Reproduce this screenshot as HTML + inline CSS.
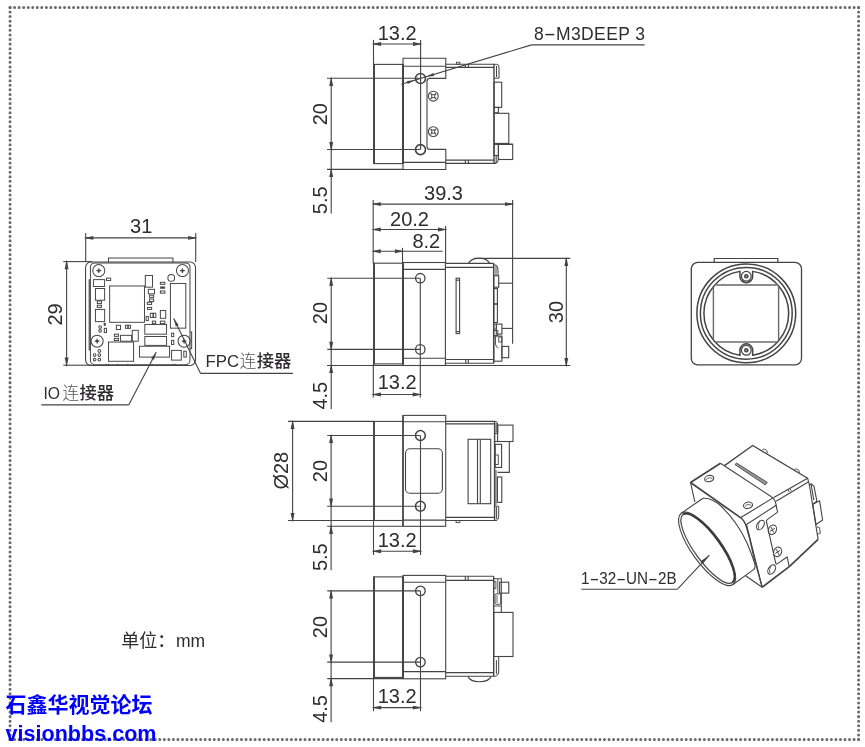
<!DOCTYPE html>
<html><head><meta charset="utf-8"><title>drawing</title>
<style>
html,body{margin:0;padding:0;background:#fff;}
body{width:865px;height:747px;overflow:hidden;}
svg{display:block;font-family:"Liberation Sans",sans-serif;will-change:transform;}
</style></head><body>
<svg width="865" height="747" viewBox="0 0 865 747">

<line x1="10.05" y1="7.45" x2="858.6" y2="7.45" stroke="#6a6a6a" stroke-width="3" stroke-dasharray="0.01 4.5277" stroke-linecap="round"/>
<line x1="10.05" y1="739.5" x2="858.6" y2="739.5" stroke="#6a6a6a" stroke-width="3" stroke-dasharray="0.01 4.5277" stroke-linecap="round"/>
<line x1="10.05" y1="7.45" x2="10.05" y2="739.5" stroke="#6a6a6a" stroke-width="3" stroke-dasharray="0.01 4.5653" stroke-linecap="round"/>
<line x1="858.6" y1="7.45" x2="858.6" y2="739.5" stroke="#6a6a6a" stroke-width="3" stroke-dasharray="0.01 4.5653" stroke-linecap="round"/>
<rect x="374" y="64.4" width="29.00" height="99.20" rx="0" fill="none" stroke="#454345" stroke-width="1.1"/>
<line x1="374" y1="63.900000000000006" x2="374" y2="164.1" stroke="#454345" stroke-width="1.9"/>
<line x1="403" y1="63.900000000000006" x2="403" y2="164.1" stroke="#454345" stroke-width="1.9"/>
<path d="M403,58.3 H445.8 V78.4 H430 Q427,78.4 427,81.4 V146.4 Q427,149.4 430,149.4 H445.8 V169.5 H403 Z" fill="none" stroke="#454345" stroke-width="1.1" />
<line x1="403" y1="66.2" x2="445.8" y2="66.2" stroke="#454345" stroke-width="1.1"/>
<line x1="403" y1="162.4" x2="445.8" y2="162.4" stroke="#454345" stroke-width="1.1"/>
<circle cx="420.5" cy="78.5" r="5.0" fill="none" stroke="#454345" stroke-width="1.6"/>
<circle cx="420.5" cy="149.6" r="5.0" fill="none" stroke="#454345" stroke-width="1.6"/>
<circle cx="433.3" cy="96.2" r="4.9" fill="none" stroke="#454345" stroke-width="1.1"/>
<path d="M430.6,93.5 l5.4,5.4 m0,-5.4 l-5.4,5.4" fill="none" stroke="#454345" stroke-width="1.2" />
<rect x="431.8" y="94.7" width="3.00" height="3.00" rx="0" fill="#fff" stroke="#454345" stroke-width="0.9"/>
<circle cx="433.3" cy="131.6" r="4.9" fill="none" stroke="#454345" stroke-width="1.1"/>
<path d="M430.6,128.9 l5.4,5.4 m0,-5.4 l-5.4,5.4" fill="none" stroke="#454345" stroke-width="1.2" />
<rect x="431.8" y="130.1" width="3.00" height="3.00" rx="0" fill="#fff" stroke="#454345" stroke-width="0.9"/>
<line x1="445.8" y1="64.3" x2="494" y2="64.3" stroke="#454345" stroke-width="1.1"/>
<line x1="445.8" y1="67.4" x2="494" y2="67.4" stroke="#454345" stroke-width="1.1"/>
<line x1="445.8" y1="160.1" x2="494" y2="160.1" stroke="#454345" stroke-width="1.1"/>
<line x1="445.8" y1="163.4" x2="496" y2="163.4" stroke="#454345" stroke-width="1.1"/>
<line x1="494" y1="64.3" x2="494" y2="163.4" stroke="#454345" stroke-width="1.4"/>
<rect x="456.4" y="62.2" width="3.40" height="2.10" rx="0" fill="none" stroke="#454345" stroke-width="0.9"/>
<line x1="465.3" y1="64.3" x2="465.3" y2="67.4" stroke="#454345" stroke-width="1.1"/>
<line x1="465.3" y1="160.1" x2="465.3" y2="163.4" stroke="#454345" stroke-width="1.1"/>
<line x1="468.4" y1="64.3" x2="468.4" y2="67.4" stroke="#454345" stroke-width="1.1"/>
<line x1="468.4" y1="160.1" x2="468.4" y2="163.4" stroke="#454345" stroke-width="1.1"/>
<path d="M494,64.3 H496.5 Q499,64.3 499,67 V78.2 H494 M496.5,66 V77" fill="none" stroke="#454345" stroke-width="1.0" />
<rect x="494" y="82.2" width="7.70" height="25.20" rx="0" fill="none" stroke="#454345" stroke-width="1.1"/>
<rect x="494" y="107.4" width="4.40" height="5.40" rx="0" fill="none" stroke="#454345" stroke-width="1.1"/>
<rect x="494" y="113.3" width="14.80" height="30.10" rx="0" fill="none" stroke="#454345" stroke-width="1.1"/>
<line x1="494" y1="144.3" x2="512.7" y2="144.3" stroke="#454345" stroke-width="1.3"/>
<rect x="498.4" y="144.3" width="14.30" height="15.20" rx="0" fill="none" stroke="#454345" stroke-width="1.1"/>
<rect x="494" y="144.3" width="4.40" height="11.20" rx="0" fill="none" stroke="#454345" stroke-width="1.1"/>
<path d="M498.4,155.5 V160 Q498,163.4 495,163.4" fill="none" stroke="#454345" stroke-width="1.0" />
<line x1="496.2" y1="156" x2="496.2" y2="163" stroke="#454345" stroke-width="1.1"/>
<line x1="373.5" y1="39.9" x2="373.5" y2="64.4" stroke="#454345" stroke-width="1.1"/>
<line x1="420.6" y1="39.9" x2="420.6" y2="149.5" stroke="#454345" stroke-width="1.1"/>
<line x1="373.5" y1="44" x2="420.6" y2="44" stroke="#454345" stroke-width="1.1"/>
<polygon points="371.50,44.00 381.10,45.95 381.10,42.05" fill="#454345"/>
<polygon points="422.60,44.00 413.00,42.05 413.00,45.95" fill="#454345"/>
<text x="397.2" y="39.8" font-size="20" text-anchor="middle" fill="#2e2c2e">13.2</text>
<line x1="327" y1="78.3" x2="420.5" y2="78.3" stroke="#454345" stroke-width="1.1"/>
<line x1="327" y1="149.5" x2="420.5" y2="149.5" stroke="#454345" stroke-width="1.1"/>
<line x1="327" y1="169.4" x2="403" y2="169.4" stroke="#454345" stroke-width="1.1"/>
<line x1="331.2" y1="78.3" x2="331.2" y2="213.6" stroke="#454345" stroke-width="1.1"/>
<polygon points="331.20,76.30 329.25,85.90 333.15,85.90" fill="#454345"/>
<polygon points="331.20,151.50 333.15,141.90 329.25,141.90" fill="#454345"/>
<polygon points="331.20,167.40 329.25,177.00 333.15,177.00" fill="#454345"/>
<text x="327.2" y="114.2" font-size="20" text-anchor="middle" fill="#2e2c2e" transform="rotate(-90 327.2 114.2)">20</text>
<text x="327.2" y="200.3" font-size="20" text-anchor="middle" fill="#2e2c2e" transform="rotate(-90 327.2 200.3)">5.5</text>
<line x1="531.5" y1="44.9" x2="644.6" y2="44.9" stroke="#454345" stroke-width="1.3"/>
<line x1="531.5" y1="44.9" x2="401.4" y2="84.3" stroke="#454345" stroke-width="1.1"/>
<polygon points="426.05,76.82 434.17,76.03 433.24,72.97" fill="#454345"/>
<polygon points="414.95,80.18 406.83,80.97 407.76,84.03" fill="#454345"/>
<text x="534" y="40.4" font-size="17.5" text-anchor="start" fill="#2e2c2e">8<tspan textLength="12.2" lengthAdjust="spacingAndGlyphs">-</tspan><tspan letter-spacing="0.4">M3DEEP 3</tspan></text>
<rect x="374" y="263.2" width="29.00" height="100.70" rx="0" fill="none" stroke="#454345" stroke-width="1.1"/>
<line x1="374" y1="262.7" x2="374" y2="364.4" stroke="#454345" stroke-width="1.9"/>
<line x1="403" y1="262.7" x2="403" y2="364.4" stroke="#454345" stroke-width="1.9"/>
<rect x="403" y="262.5" width="42.40" height="103.00" rx="0" fill="none" stroke="#454345" stroke-width="1.1"/>
<line x1="403" y1="269.4" x2="445.4" y2="269.4" stroke="#454345" stroke-width="1.1"/>
<line x1="403" y1="358.2" x2="445.4" y2="358.2" stroke="#454345" stroke-width="1.1"/>
<line x1="445.4" y1="263.4" x2="493.7" y2="263.4" stroke="#454345" stroke-width="1.1"/>
<line x1="445.4" y1="267.4" x2="493.7" y2="267.4" stroke="#454345" stroke-width="1.1"/>
<line x1="445.4" y1="359.5" x2="493.7" y2="359.5" stroke="#454345" stroke-width="1.1"/>
<line x1="445.4" y1="363.3" x2="493.7" y2="363.3" stroke="#454345" stroke-width="1.1"/>
<line x1="493.7" y1="263.4" x2="493.7" y2="363.3" stroke="#454345" stroke-width="1.5"/>
<line x1="465.8" y1="359.5" x2="465.8" y2="363.3" stroke="#454345" stroke-width="1.1"/>
<line x1="468.3" y1="359.5" x2="468.3" y2="363.3" stroke="#454345" stroke-width="1.1"/>
<rect x="456.1" y="278.2" width="3.50" height="55.40" rx="0" fill="none" stroke="#454345" stroke-width="1.1"/>
<line x1="456.1" y1="280.2" x2="459.6" y2="280.2" stroke="#454345" stroke-width="1.1"/>
<line x1="456.1" y1="331.6" x2="459.6" y2="331.6" stroke="#454345" stroke-width="1.1"/>
<circle cx="420.3" cy="278.2" r="4.7" fill="none" stroke="#454345" stroke-width="1.3"/>
<circle cx="420.3" cy="349.4" r="4.7" fill="none" stroke="#454345" stroke-width="1.3"/>
<path d="M468.3,263.4 Q471.5,258.4 478,258.4 H481 Q486.5,258.4 489.9,263.4" fill="none" stroke="#454345" stroke-width="1.1" />
<path d="M493.7,265 H496 Q498,266 498,270 V275.9 M496,266 V275" fill="none" stroke="#454345" stroke-width="1.0" />
<rect x="493.7" y="275.7" width="5.00" height="11.50" rx="0" fill="none" stroke="#454345" stroke-width="1.1"/>
<rect x="493.7" y="288.6" width="3.70" height="15.40" rx="0" fill="none" stroke="#454345" stroke-width="1.1"/>
<rect x="493.7" y="304" width="3.70" height="18.50" rx="0" fill="none" stroke="#454345" stroke-width="1.1"/>
<rect x="496.3" y="324.1" width="5.60" height="10.00" rx="0" fill="none" stroke="#454345" stroke-width="1.1"/>
<rect x="493.7" y="324.1" width="2.60" height="4.90" rx="0" fill="none" stroke="#454345" stroke-width="0.9"/>
<rect x="493.7" y="330.5" width="4.10" height="5.00" rx="0" fill="none" stroke="#454345" stroke-width="0.9"/>
<rect x="493.7" y="336.1" width="8.20" height="25.10" rx="0" fill="none" stroke="#454345" stroke-width="1.1"/>
<path d="M495.5,336.5 V344 Q495.8,347.5 498.5,347.8" fill="none" stroke="#454345" stroke-width="0.9" />
<rect x="498.8" y="337" width="3.10" height="5.00" rx="0" fill="none" stroke="#454345" stroke-width="0.9"/>
<rect x="501.9" y="346.4" width="6.80" height="11.30" rx="0" fill="none" stroke="#454345" stroke-width="1.1"/>
<line x1="373.2" y1="200" x2="373.2" y2="263.2" stroke="#454345" stroke-width="1.1"/>
<line x1="512.6" y1="200" x2="512.6" y2="343.7" stroke="#454345" stroke-width="1.1"/>
<line x1="373.2" y1="204.1" x2="512.6" y2="204.1" stroke="#454345" stroke-width="1.1"/>
<polygon points="371.20,204.10 380.80,206.05 380.80,202.15" fill="#454345"/>
<polygon points="514.60,204.10 505.00,202.15 505.00,206.05" fill="#454345"/>
<text x="443.5" y="199.7" font-size="20" text-anchor="middle" fill="#2e2c2e">39.3</text>
<line x1="445.6" y1="226" x2="445.6" y2="263.4" stroke="#454345" stroke-width="1.1"/>
<line x1="373.2" y1="229.5" x2="445.6" y2="229.5" stroke="#454345" stroke-width="1.1"/>
<polygon points="371.20,229.50 380.80,231.45 380.80,227.55" fill="#454345"/>
<polygon points="447.60,229.50 438.00,227.55 438.00,231.45" fill="#454345"/>
<text x="409.5" y="225.6" font-size="20" text-anchor="middle" fill="#2e2c2e">20.2</text>
<line x1="402.5" y1="247.8" x2="402.5" y2="263" stroke="#454345" stroke-width="1.1"/>
<line x1="373.2" y1="251.3" x2="442.8" y2="251.3" stroke="#454345" stroke-width="1.1"/>
<polygon points="371.20,251.30 380.80,253.25 380.80,249.35" fill="#454345"/>
<polygon points="404.50,251.30 394.90,249.35 394.90,253.25" fill="#454345"/>
<text x="426.3" y="247.6" font-size="20" text-anchor="middle" fill="#2e2c2e">8.2</text>
<line x1="498.7" y1="283.2" x2="512.6" y2="283.2" stroke="#454345" stroke-width="1.1"/>
<line x1="501.9" y1="328.4" x2="512.6" y2="328.4" stroke="#454345" stroke-width="1.1"/>
<line x1="474" y1="258.4" x2="570.3" y2="258.4" stroke="#454345" stroke-width="1.1"/>
<line x1="327" y1="365.5" x2="570.3" y2="365.5" stroke="#454345" stroke-width="1.1"/>
<line x1="566.3" y1="258.4" x2="566.3" y2="365.5" stroke="#454345" stroke-width="1.1"/>
<polygon points="566.30,256.40 564.35,266.00 568.25,266.00" fill="#454345"/>
<polygon points="566.30,367.50 568.25,357.90 564.35,357.90" fill="#454345"/>
<text x="563.3" y="312.1" font-size="20" text-anchor="middle" fill="#2e2c2e" transform="rotate(-90 563.3 312.1)">30</text>
<line x1="327.3" y1="278.2" x2="420.3" y2="278.2" stroke="#454345" stroke-width="1.1"/>
<line x1="327.3" y1="349.4" x2="420.3" y2="349.4" stroke="#454345" stroke-width="1.1"/>
<line x1="331.2" y1="278.2" x2="331.2" y2="409" stroke="#454345" stroke-width="1.1"/>
<polygon points="331.20,276.20 329.25,285.80 333.15,285.80" fill="#454345"/>
<polygon points="331.20,351.40 333.15,341.80 329.25,341.80" fill="#454345"/>
<polygon points="331.20,363.50 329.25,373.10 333.15,373.10" fill="#454345"/>
<text x="327.2" y="313" font-size="20" text-anchor="middle" fill="#2e2c2e" transform="rotate(-90 327.2 313)">20</text>
<text x="327.2" y="395.7" font-size="20" text-anchor="middle" fill="#2e2c2e" transform="rotate(-90 327.2 395.7)">4.5</text>
<line x1="373.3" y1="363.9" x2="373.3" y2="397.5" stroke="#454345" stroke-width="1.1"/>
<line x1="420.3" y1="278.2" x2="420.3" y2="397.5" stroke="#454345" stroke-width="1.1"/>
<line x1="373.3" y1="394.5" x2="420.3" y2="394.5" stroke="#454345" stroke-width="1.1"/>
<polygon points="371.30,394.50 380.90,396.45 380.90,392.55" fill="#454345"/>
<polygon points="422.30,394.50 412.70,392.55 412.70,396.45" fill="#454345"/>
<text x="397.2" y="389.4" font-size="20" text-anchor="middle" fill="#2e2c2e">13.2</text>
<line x1="374" y1="421.4" x2="374" y2="520.5" stroke="#454345" stroke-width="1.9"/>
<line x1="374" y1="421.4" x2="403" y2="421.4" stroke="#454345" stroke-width="1.1"/>
<line x1="374" y1="520.5" x2="403" y2="520.5" stroke="#454345" stroke-width="1.1"/>
<rect x="403" y="415.4" width="42.70" height="110.90" rx="0" fill="none" stroke="#454345" stroke-width="1.1"/>
<line x1="403" y1="415.4" x2="403" y2="526.3" stroke="#454345" stroke-width="1.5"/>
<line x1="403" y1="421.7" x2="445.7" y2="421.7" stroke="#454345" stroke-width="1.1"/>
<line x1="403" y1="520.1" x2="445.7" y2="520.1" stroke="#454345" stroke-width="1.1"/>
<rect x="405.5" y="448.8" width="36.90" height="44.40" rx="4.5" fill="none" stroke="#454345" stroke-width="1.1"/>
<circle cx="420.4" cy="435.5" r="4.9" fill="none" stroke="#454345" stroke-width="1.5"/>
<circle cx="420.4" cy="506.2" r="4.9" fill="none" stroke="#454345" stroke-width="1.5"/>
<line x1="445.7" y1="421.4" x2="494.6" y2="421.4" stroke="#454345" stroke-width="1.1"/>
<line x1="445.7" y1="423.9" x2="494.6" y2="423.9" stroke="#454345" stroke-width="1.1"/>
<line x1="445.7" y1="517.4" x2="494.6" y2="517.4" stroke="#454345" stroke-width="1.1"/>
<line x1="445.7" y1="520.5" x2="496.5" y2="520.5" stroke="#454345" stroke-width="1.1"/>
<line x1="494.6" y1="421.4" x2="494.6" y2="520.5" stroke="#454345" stroke-width="1.4"/>
<rect x="468.1" y="439.3" width="22.60" height="64.40" rx="0" fill="none" stroke="#454345" stroke-width="1.1"/>
<line x1="477.5" y1="439.3" x2="477.5" y2="503.7" stroke="#454345" stroke-width="1.1"/>
<line x1="480.3" y1="439.3" x2="480.3" y2="503.7" stroke="#454345" stroke-width="1.1"/>
<rect x="456.1" y="520.5" width="3.70" height="2.10" rx="0" fill="none" stroke="#454345" stroke-width="0.9"/>
<path d="M494.6,421.4 H496 Q497.8,422 497.8,425 V433.4 H494.6 M496.2,423 V432.5" fill="none" stroke="#454345" stroke-width="1.0" />
<rect x="497.6" y="425.1" width="15.40" height="16.40" rx="0" fill="none" stroke="#454345" stroke-width="1.1"/>
<path d="M494.6,441.5 H509.3 V472.4 H497.5" fill="none" stroke="#454345" stroke-width="1.1" />
<rect x="495.2" y="444.3" width="6.40" height="23.10" rx="0" fill="none" stroke="#454345" stroke-width="1.1"/>
<rect x="494.6" y="455" width="3.70" height="9.50" rx="0" fill="none" stroke="#454345" stroke-width="0.9"/>
<rect x="497.4" y="477" width="4.40" height="25.40" rx="0" fill="none" stroke="#454345" stroke-width="1.1"/>
<line x1="496" y1="470" x2="496" y2="505" stroke="#454345" stroke-width="0.9"/>
<path d="M494.6,506.2 H498.7 V517 Q498.3,520.5 496,520.5 M496.6,507 V519" fill="none" stroke="#454345" stroke-width="1.0" />
<line x1="288" y1="421.4" x2="374" y2="421.4" stroke="#454345" stroke-width="1.1"/>
<line x1="288" y1="520.5" x2="374" y2="520.5" stroke="#454345" stroke-width="1.1"/>
<line x1="292.6" y1="421.4" x2="292.6" y2="520.5" stroke="#454345" stroke-width="1.1"/>
<polygon points="292.60,419.40 290.65,429.00 294.55,429.00" fill="#454345"/>
<polygon points="292.60,522.50 294.55,512.90 290.65,512.90" fill="#454345"/>
<text x="288" y="470.7" font-size="20" text-anchor="middle" fill="#2e2c2e" transform="rotate(-90 288 470.7)">Ø28</text>
<line x1="327.2" y1="435.5" x2="420.4" y2="435.5" stroke="#454345" stroke-width="1.1"/>
<line x1="327.2" y1="506.2" x2="420.4" y2="506.2" stroke="#454345" stroke-width="1.1"/>
<line x1="327.2" y1="526.3" x2="403" y2="526.3" stroke="#454345" stroke-width="1.1"/>
<line x1="331.1" y1="435.5" x2="331.1" y2="570.2" stroke="#454345" stroke-width="1.1"/>
<polygon points="331.10,433.50 329.15,443.10 333.05,443.10" fill="#454345"/>
<polygon points="331.10,508.20 333.05,498.60 329.15,498.60" fill="#454345"/>
<polygon points="331.10,524.30 329.15,533.90 333.05,533.90" fill="#454345"/>
<text x="327.2" y="471.1" font-size="20" text-anchor="middle" fill="#2e2c2e" transform="rotate(-90 327.2 471.1)">20</text>
<text x="327.2" y="557.2" font-size="20" text-anchor="middle" fill="#2e2c2e" transform="rotate(-90 327.2 557.2)">5.5</text>
<line x1="373.5" y1="520.5" x2="373.5" y2="555" stroke="#454345" stroke-width="1.1"/>
<line x1="420.5" y1="435.5" x2="420.5" y2="555" stroke="#454345" stroke-width="1.1"/>
<line x1="373.5" y1="551.3" x2="420.5" y2="551.3" stroke="#454345" stroke-width="1.1"/>
<polygon points="371.50,551.30 381.10,553.25 381.10,549.35" fill="#454345"/>
<polygon points="422.50,551.30 412.90,549.35 412.90,553.25" fill="#454345"/>
<text x="397.2" y="547.2" font-size="20" text-anchor="middle" fill="#2e2c2e">13.2</text>
<rect x="374" y="576.9" width="29.00" height="100.50" rx="0" fill="none" stroke="#454345" stroke-width="1.1"/>
<line x1="374" y1="576.4" x2="374" y2="677.9" stroke="#454345" stroke-width="1.9"/>
<line x1="403" y1="576.4" x2="403" y2="677.9" stroke="#454345" stroke-width="1.9"/>
<rect x="403" y="575.4" width="42.70" height="103.40" rx="0" fill="none" stroke="#454345" stroke-width="1.1"/>
<line x1="403" y1="582.2" x2="445.7" y2="582.2" stroke="#454345" stroke-width="1.1"/>
<line x1="403" y1="671.6" x2="445.7" y2="671.6" stroke="#454345" stroke-width="1.1"/>
<circle cx="420.4" cy="590.9" r="4.8" fill="none" stroke="#454345" stroke-width="1.3"/>
<circle cx="420.4" cy="662.1" r="4.8" fill="none" stroke="#454345" stroke-width="1.3"/>
<line x1="445.7" y1="576.2" x2="493.7" y2="576.2" stroke="#454345" stroke-width="1.1"/>
<line x1="445.7" y1="580.4" x2="493.7" y2="580.4" stroke="#454345" stroke-width="1.1"/>
<line x1="445.7" y1="672.6" x2="493.7" y2="672.6" stroke="#454345" stroke-width="1.1"/>
<line x1="445.7" y1="676.3" x2="495.5" y2="676.3" stroke="#454345" stroke-width="1.1"/>
<line x1="493.7" y1="576.2" x2="493.7" y2="676.3" stroke="#454345" stroke-width="1.4"/>
<line x1="465.3" y1="576.2" x2="465.3" y2="580.4" stroke="#454345" stroke-width="1.1"/>
<line x1="468.1" y1="576.2" x2="468.1" y2="580.4" stroke="#454345" stroke-width="1.1"/>
<path d="M467.8,676.3 Q470,681.8 479.5,681.8 Q489,681.8 491.2,676.3" fill="none" stroke="#454345" stroke-width="1.1" />
<path d="M493.7,578.7 H501.3 V611.9" fill="none" stroke="#454345" stroke-width="1.1" />
<rect x="493.7" y="581.7" width="2.20" height="6.70" rx="0" fill="none" stroke="#454345" stroke-width="0.9"/>
<rect x="499.6" y="582.2" width="9.20" height="10.90" rx="0" fill="none" stroke="#454345" stroke-width="1.1"/>
<line x1="497.8" y1="579" x2="497.8" y2="593" stroke="#454345" stroke-width="0.9"/>
<rect x="495" y="593.8" width="5.80" height="10.50" rx="1.5" fill="none" stroke="#454345" stroke-width="1.0"/>
<line x1="497" y1="595" x2="497" y2="603" stroke="#454345" stroke-width="0.8"/>
<line x1="494" y1="606" x2="501" y2="606" stroke="#454345" stroke-width="0.9"/>
<rect x="493.7" y="612.4" width="19.30" height="44.10" rx="0" fill="none" stroke="#454345" stroke-width="1.1"/>
<path d="M493.7,656.5 H498.7 V672 Q498.3,675.6 495.5,676.3 M496.4,660 V674" fill="none" stroke="#454345" stroke-width="1.0" />
<line x1="327.2" y1="590.9" x2="420.4" y2="590.9" stroke="#454345" stroke-width="1.1"/>
<line x1="327.2" y1="662.1" x2="420.4" y2="662.1" stroke="#454345" stroke-width="1.1"/>
<line x1="327.2" y1="678.6" x2="403" y2="678.6" stroke="#454345" stroke-width="1.1"/>
<line x1="331.1" y1="590.9" x2="331.1" y2="722.3" stroke="#454345" stroke-width="1.1"/>
<polygon points="331.10,588.90 329.15,598.50 333.05,598.50" fill="#454345"/>
<polygon points="331.10,664.10 333.05,654.50 329.15,654.50" fill="#454345"/>
<polygon points="331.10,676.60 329.15,686.20 333.05,686.20" fill="#454345"/>
<text x="327.2" y="627" font-size="20" text-anchor="middle" fill="#2e2c2e" transform="rotate(-90 327.2 627)">20</text>
<text x="327.2" y="708.9" font-size="20" text-anchor="middle" fill="#2e2c2e" transform="rotate(-90 327.2 708.9)">4.5</text>
<line x1="373.5" y1="677.4" x2="373.5" y2="711.2" stroke="#454345" stroke-width="1.1"/>
<line x1="420.5" y1="590.9" x2="420.5" y2="711.2" stroke="#454345" stroke-width="1.1"/>
<line x1="373.5" y1="707.6" x2="420.5" y2="707.6" stroke="#454345" stroke-width="1.1"/>
<polygon points="371.50,707.60 381.10,709.55 381.10,705.65" fill="#454345"/>
<polygon points="422.50,707.60 412.90,705.65 412.90,709.55" fill="#454345"/>
<text x="397.2" y="702.9" font-size="20" text-anchor="middle" fill="#2e2c2e">13.2</text>
<g transform="translate(70,250) scale(0.16734)" fill="none" stroke="#454345" stroke-width="6">
<rect x="93" y="72" width="657" height="618" rx="32" stroke-width="6.5"/>
<rect x="122" y="77" width="595" height="608" rx="26"/>
<path d="M230,75 V48 H615 V75"/>
<circle cx="172" cy="123" r="36" />
<path d="M158,123 h28 M172,109 v28" stroke-width="7"/>
<circle cx="172" cy="123" r="7" fill="#454345" stroke="none"/>
<circle cx="672" cy="123" r="36" />
<path d="M658,123 h28 M672,109 v28" stroke-width="7"/>
<circle cx="672" cy="123" r="7" fill="#454345" stroke="none"/>
<circle cx="162" cy="545" r="36" />
<path d="M148,545 h28 M162,531 v28" stroke-width="7"/>
<circle cx="162" cy="545" r="7" fill="#454345" stroke="none"/>
<circle cx="682" cy="545" r="36" />
<path d="M668,545 h28 M682,531 v28" stroke-width="7"/>
<circle cx="682" cy="545" r="7" fill="#454345" stroke="none"/>
<circle cx="605" cy="167" r="20" />
<rect x="140" y="177" width="67" height="41" stroke-width="5.8"/>
<rect x="218" y="168" width="25" height="14" stroke-width="5.8"/>
<rect x="152" y="230" width="55" height="70" stroke-width="5.8"/>
<rect x="163" y="305" width="25" height="15" stroke-width="5.8"/>
<rect x="163" y="330" width="25" height="13" stroke-width="5.8"/>
<rect x="152" y="355" width="55" height="73" stroke-width="5.8"/>
<rect x="205" y="468" width="13" height="25" stroke-width="5.8"/>
<rect x="237" y="215" width="208" height="217" stroke-width="5.8"/>
<rect x="450" y="152" width="43" height="70" stroke-width="5.8"/>
<rect x="468" y="235" width="37" height="27" stroke-width="5.8"/>
<rect x="475" y="270" width="25" height="13" stroke-width="5.8"/>
<rect x="475" y="293" width="25" height="15" stroke-width="5.8"/>
<rect x="462" y="312" width="26" height="13" stroke-width="5.8"/>
<rect x="463" y="343" width="25" height="12" stroke-width="5.8"/>
<rect x="540" y="193" width="27" height="12" stroke-width="5.8"/>
<rect x="540" y="245" width="27" height="13" stroke-width="5.8"/>
<rect x="480" y="378" width="17" height="25" stroke-width="5.8"/>
<rect x="497" y="378" width="16" height="25" stroke-width="5.8"/>
<rect x="455" y="397" width="13" height="25" stroke-width="5.8"/>
<rect x="540" y="362" width="32" height="46" stroke-width="5.8"/>
<rect x="492" y="425" width="20" height="15" stroke-width="5.8"/>
<rect x="540" y="425" width="27" height="15" stroke-width="5.8"/>
<rect x="277" y="450" width="25" height="25" stroke-width="5.8"/>
<rect x="332" y="450" width="15" height="18" stroke-width="5.8"/>
<rect x="347" y="450" width="15" height="18" stroke-width="5.8"/>
<rect x="265" y="503" width="25" height="13" stroke-width="5.8"/>
<rect x="265" y="528" width="25" height="13" stroke-width="5.8"/>
<rect x="302" y="510" width="66" height="35" stroke-width="5.8"/>
<rect x="372" y="480" width="36" height="65" stroke-width="5.8"/>
<rect x="447" y="445" width="130" height="58" stroke-width="5.8"/>
<rect x="447" y="517" width="130" height="53" stroke-width="5.8"/>
<rect x="415" y="575" width="180" height="65" stroke-width="5.8"/>
<rect x="230" y="550" width="150" height="115" stroke-width="5.8"/>
<rect x="607" y="600" width="58" height="58" stroke-width="5.8"/>
<rect x="680" y="605" width="15" height="35" stroke-width="5.8"/>
<rect x="607" y="497" width="13" height="21" stroke-width="5.8"/>
<rect x="607" y="540" width="13" height="25" stroke-width="5.8"/>
<rect x="600" y="200" width="92" height="267" stroke-width="5.8"/>
<rect x="540" y="220" width="27" height="10" fill="#454345" stroke-width="3"/>
<rect x="203" y="437" width="10" height="15" fill="#454345" stroke-width="3"/>
<circle cx="180" cy="460" r="8" stroke-width="6"/>
<circle cx="180" cy="483" r="8" stroke-width="6"/>
<circle cx="147" cy="628" r="8" stroke-width="6"/>
<circle cx="175" cy="603" r="8" stroke-width="6"/>
<circle cx="175" cy="628" r="8" stroke-width="6"/>
<circle cx="147" cy="655" r="8" stroke-width="6"/>
<circle cx="175" cy="655" r="8" stroke-width="6"/>
<path d="M115,175 V600" stroke-width="7"/>
<path d="M717,490 H727 V590 H717"/>
<path d="M215,680 V690" stroke-width="5"/>
<path d="M230,680 V690" stroke-width="5"/>
<path d="M285,680 V690" stroke-width="5"/>
<path d="M345,680 V690" stroke-width="5"/>
<path d="M490,680 V690" stroke-width="5"/>
<path d="M615,680 V690" stroke-width="5"/>
<path d="M628,680 V690" stroke-width="5"/>
</g>
<line x1="85.7" y1="233" x2="85.7" y2="262" stroke="#454345" stroke-width="1.1"/>
<line x1="195.7" y1="233" x2="195.7" y2="262" stroke="#454345" stroke-width="1.1"/>
<line x1="85.7" y1="237.9" x2="195.7" y2="237.9" stroke="#454345" stroke-width="1.1"/>
<polygon points="83.70,237.90 93.30,239.85 93.30,235.95" fill="#454345"/>
<polygon points="197.70,237.90 188.10,235.95 188.10,239.85" fill="#454345"/>
<text x="141.2" y="233.3" font-size="20" text-anchor="middle" fill="#2e2c2e">31</text>
<line x1="63.3" y1="261.6" x2="92" y2="261.6" stroke="#454345" stroke-width="1.1"/>
<line x1="63.3" y1="365.2" x2="92" y2="365.2" stroke="#454345" stroke-width="1.1"/>
<line x1="66.6" y1="261.6" x2="66.6" y2="365.2" stroke="#454345" stroke-width="1.1"/>
<polygon points="66.60,259.60 64.65,269.20 68.55,269.20" fill="#454345"/>
<polygon points="66.60,367.20 68.55,357.60 64.65,357.60" fill="#454345"/>
<text x="62.4" y="314.4" font-size="20" text-anchor="middle" fill="#2e2c2e" transform="rotate(-90 62.4 314.4)">29</text>
<line x1="41.3" y1="404.9" x2="128.7" y2="404.9" stroke="#454345" stroke-width="1.1"/>
<line x1="128.7" y1="404.9" x2="156.3" y2="352" stroke="#454345" stroke-width="1.1"/>
<polygon points="156.30,352.00 151.18,358.35 154.02,359.83" fill="#454345"/>
<line x1="292.9" y1="373.4" x2="200.6" y2="373.4" stroke="#454345" stroke-width="1.1"/>
<line x1="200.6" y1="373.4" x2="173.7" y2="318.6" stroke="#454345" stroke-width="1.1"/>
<polygon points="173.70,318.60 175.77,326.49 178.64,325.09" fill="#454345"/>
<text y="398.8" font-size="17" fill="#2e2c2e" font-family='"Liberation Sans","Noto Sans CJK SC",sans-serif'><tspan x="43.5" textLength="16.6" lengthAdjust="spacingAndGlyphs">IO</tspan><tspan x="62.4" y="399.40000000000003" font-weight="300" fill="#555" font-size="16.5">连</tspan><tspan x="79.5" y="399.40000000000003" font-weight="500" font-size="17.5" textLength="34.6" lengthAdjust="spacingAndGlyphs">接器</tspan></text>
<text y="366.7" font-size="17" fill="#2e2c2e" font-family='"Liberation Sans","Noto Sans CJK SC",sans-serif'><tspan x="205.6" textLength="33.6" lengthAdjust="spacingAndGlyphs">FPC</tspan><tspan x="239.7" y="367.3" font-weight="300" fill="#555" font-size="16.5">连</tspan><tspan x="256.8" y="367.3" font-weight="500" font-size="17.5" textLength="34.6" lengthAdjust="spacingAndGlyphs">接器</tspan></text>
<rect x="691.3" y="262.3" width="110.20" height="102.60" rx="6.5" fill="none" stroke="#454345" stroke-width="1.3"/>
<path d="M714.2,262.3 V258.5 H777.8 V262.3" fill="none" stroke="#454345" stroke-width="1.2" />
<circle cx="746.3" cy="313.3" r="49.4" fill="none" stroke="#454345" stroke-width="1.5"/>
<circle cx="746.3" cy="313.3" r="45.9" fill="none" stroke="#454345" stroke-width="1.5"/>
<path d="M752.65,271.38 A42.4,42.4 0 0 1 752.65,355.22 V350.2 A6.35,6.35 0 0 0 739.9499999999999,350.2 V355.22 A42.4,42.4 0 0 1 739.9499999999999,271.38 V276.40000000000003 A6.35,6.35 0 0 0 752.65,276.40000000000003 Z" fill="none" stroke="#454345" stroke-width="1.5" />
<circle cx="746.3" cy="276.3" r="4.9" fill="none" stroke="#454345" stroke-width="1.2"/>
<circle cx="746.3" cy="276.3" r="2.3" fill="#4a484a" stroke="#454345" stroke-width="0.1"/>
<circle cx="746.3" cy="276.3" r="0.7" fill="#bbb" stroke="#bbb" stroke-width="0.1"/>
<circle cx="746.3" cy="350.3" r="4.9" fill="none" stroke="#454345" stroke-width="1.2"/>
<circle cx="746.3" cy="350.3" r="2.3" fill="#4a484a" stroke="#454345" stroke-width="0.1"/>
<circle cx="746.3" cy="350.3" r="0.7" fill="#bbb" stroke="#bbb" stroke-width="0.1"/>
<clipPath id="c3"><circle cx="746.3" cy="313.3" r="42.4"/></clipPath>
<g clip-path="url(#c3)">
<line x1="712" y1="284.95" x2="780" y2="284.95" stroke="#8c8a8c" stroke-width="1.85"/>
<line x1="712" y1="341.9" x2="780" y2="341.9" stroke="#6e6c6e" stroke-width="1.5"/>
<line x1="713.4" y1="284" x2="713.4" y2="343" stroke="#6a686a" stroke-width="1.4"/>
<line x1="778.6" y1="284" x2="778.6" y2="343" stroke="#6a686a" stroke-width="1.4"/>
</g>
<path d="M690.5,482.5 L720.5,463.3" fill="none" stroke="#454345" stroke-width="1.7" />
<path d="M690.5,482.5 L740.5,517.6" fill="none" stroke="#454345" stroke-width="1.7" />
<path d="M720.5,463.3 L771,496.5 Q774.5,498.5 775.3,501.5 L777.6,512.1" fill="none" stroke="#454345" stroke-width="1.1" />
<path d="M740.5,517.8 L773.5,497.6" fill="none" stroke="#454345" stroke-width="1.1" />
<path d="M746.5,524.5 L776.6,505" fill="none" stroke="#454345" stroke-width="1.1" />
<path d="M690.5,482.5 L694.9,501.8" fill="none" stroke="#454345" stroke-width="1.1" />
<path d="M740.5,517.6 Q744.5,520.5 746.5,527 L749.8,539.4 L753.4,555 L762.1,587.2" fill="none" stroke="#454345" stroke-width="1.3" />
<path d="M746.5,524.5 L762.1,587.2" fill="none" stroke="#454345" stroke-width="1.1" />
<path d="M777.6,512.1 L767.2,519.6 Q766.2,520.4 766.5,521.8 L775.7,563 Q776.2,564.6 777.5,563.6 L787.1,557 L789.3,566.6" fill="none" stroke="#454345" stroke-width="1.1" />
<path d="M762.1,587.2 L789.3,566.6" fill="none" stroke="#454345" stroke-width="1.7" />
<path d="M745.7,575.7 L762.1,587.2" fill="none" stroke="#454345" stroke-width="1.1" />
<path d="M724.5,465.6 L752.7,445.5 L807.6,478.2" fill="none" stroke="#454345" stroke-width="1.3" />
<path d="M807.6,478.2 L773.8,497.4" fill="none" stroke="#454345" stroke-width="1.1" />
<path d="M809,481.5 L776.2,501.2" fill="none" stroke="#454345" stroke-width="1.1" />
<path d="M788,489.6 l1.4,2.6 M789.9,488.4 l1.4,2.6" fill="none" stroke="#454345" stroke-width="0.9" />
<path d="M807.6,478.2 L809.4,485 L818.1,539.3" fill="none" stroke="#454345" stroke-width="1.1" />
<path d="M818.1,539.3 L789.3,566.6" fill="none" stroke="#454345" stroke-width="1.7" />
<path d="M762.3,449.4 Q764.6,448.6 766.5,450.2 L767.6,453" fill="none" stroke="#454345" stroke-width="0.9" />
<path d="M794.4,469.3 Q796.6,468.4 798.5,470 L799.6,472.8" fill="none" stroke="#454345" stroke-width="0.9" />
<path d="M809.4,485.1 L811,483.8 L814,486.2 L816.9,501.3 L812.8,504.2" fill="none" stroke="#454345" stroke-width="1.1" />
<path d="M811,483.8 L813.8,500" fill="none" stroke="#454345" stroke-width="1.1" />
<path d="M812.8,504.2 L819.6,500.8 L822.6,520 L816,524.5 Z" fill="none" stroke="#454345" stroke-width="1.1" />
<path d="M816.6,526.8 L819.5,527.6 L820.3,533.4 L817.3,534.2" fill="none" stroke="#454345" stroke-width="0.9" />
<path d="M734.9,464.5 L736.6,463.1 L767.3,482.4 L765.3,484.9 Z" fill="#9a9a9a" stroke="#454345" stroke-width="0.9" />
<ellipse cx="709.2" cy="478.6" rx="4.6" ry="3.1" transform="rotate(-12 709.2 478.6)" fill="none" stroke="#454345" stroke-width="1.1"/>
<path d="M706.0,479.8 Q709.2,476.0 712.8000000000001,479.20000000000005" fill="none" stroke="#454345" stroke-width="0.8" />
<ellipse cx="748" cy="505.3" rx="4.6" ry="3.1" transform="rotate(-12 748 505.3)" fill="none" stroke="#454345" stroke-width="1.1"/>
<path d="M744.8,506.5 Q748,502.7 751.6,505.90000000000003" fill="none" stroke="#454345" stroke-width="0.8" />
<ellipse cx="760.4" cy="525" rx="3.3" ry="5.2" transform="rotate(32 760.4 525)" fill="none" stroke="#454345" stroke-width="1.1"/>
<path d="M759.8,520.8 Q757.1999999999999,525 758.6,528.8" fill="none" stroke="#454345" stroke-width="0.8" />
<ellipse cx="771.7" cy="569.5" rx="3.3" ry="5.2" transform="rotate(32 771.7 569.5)" fill="none" stroke="#454345" stroke-width="1.1"/>
<path d="M771.1,565.3 Q768.5,569.5 769.9000000000001,573.3" fill="none" stroke="#454345" stroke-width="0.8" />
<ellipse cx="772.4" cy="529.8" rx="3.9" ry="4.9" transform="rotate(25 772.4 529.8)" fill="none" stroke="#454345" stroke-width="1.1"/>
<path d="M770.0,531.3 l4.8,-3 M771.1999999999999,527.1999999999999 l2.4,5.2" fill="none" stroke="#454345" stroke-width="1.0" />
<ellipse cx="777.6" cy="551.9" rx="3.9" ry="4.9" transform="rotate(25 777.6 551.9)" fill="none" stroke="#454345" stroke-width="1.1"/>
<path d="M775.2,553.4 l4.8,-3 M776.4,549.3 l2.4,5.2" fill="none" stroke="#454345" stroke-width="1.0" />
<path d="M681,513.4 L703,498.3" fill="none" stroke="#454345" stroke-width="1.1" />
<path d="M703,498.3 Q712,497.5 722,507 Q738,523 747,543 Q752.5,556 755,564.7 Q755.5,568.5 753.2,569.9" fill="none" stroke="#454345" stroke-width="1.1" />
<path d="M733,584.5 L753.2,569.9" fill="none" stroke="#454345" stroke-width="1.1" />
<ellipse cx="707.1" cy="548.9" rx="44" ry="14.9" transform="rotate(54 707.1 548.9)" fill="none" stroke="#454345" stroke-width="1.1"/>
<ellipse cx="707.7" cy="548.5" rx="42.0" ry="13.0" transform="rotate(54 707.7 548.5)" fill="none" stroke="#454345" stroke-width="1.2"/>
<path d="M683.01,514.52 A42.0,13.0 54 0 1 732.39,582.48" fill="none" stroke="#3a383a" stroke-width="1.9" />
<line x1="581.3" y1="589.2" x2="677.5" y2="589.2" stroke="#454345" stroke-width="1.1"/>
<line x1="677.5" y1="589.2" x2="709.3" y2="555.2" stroke="#454345" stroke-width="1.1"/>
<polygon points="709.3,555.2 703.2,563.6 700.6,561.2" fill="#454345"/>
<text transform="translate(581.0,583.6) scale(0.925,1)" font-size="16.5" fill="#2e2c2e">1<tspan textLength="10.6" lengthAdjust="spacingAndGlyphs">-</tspan>32<tspan textLength="10.6" lengthAdjust="spacingAndGlyphs">-</tspan>UN<tspan textLength="10.6" lengthAdjust="spacingAndGlyphs">-</tspan>2B</text>
<text x="121.3" y="647.0" font-size="18" text-anchor="start" fill="#2e2c2e" font-family='"Liberation Sans","Noto Sans CJK SC",sans-serif'>单位：</text>
<text x="176.0" y="646.6" font-size="18" text-anchor="start" fill="#2e2c2e" textLength="29.2" lengthAdjust="spacingAndGlyphs">mm</text>
<text x="5.5" y="712.2" font-size="21" text-anchor="start" fill="#0000ff" textLength="147" lengthAdjust="spacingAndGlyphs" font-weight="bold" font-family='"Liberation Sans","Noto Sans CJK SC",sans-serif'>石鑫华视觉论坛</text>
<text x="5.5" y="741" font-size="21.5" text-anchor="start" fill="#0000ff" textLength="151" lengthAdjust="spacingAndGlyphs" font-weight="bold">visionbbs.com</text>
</svg>
</body></html>
